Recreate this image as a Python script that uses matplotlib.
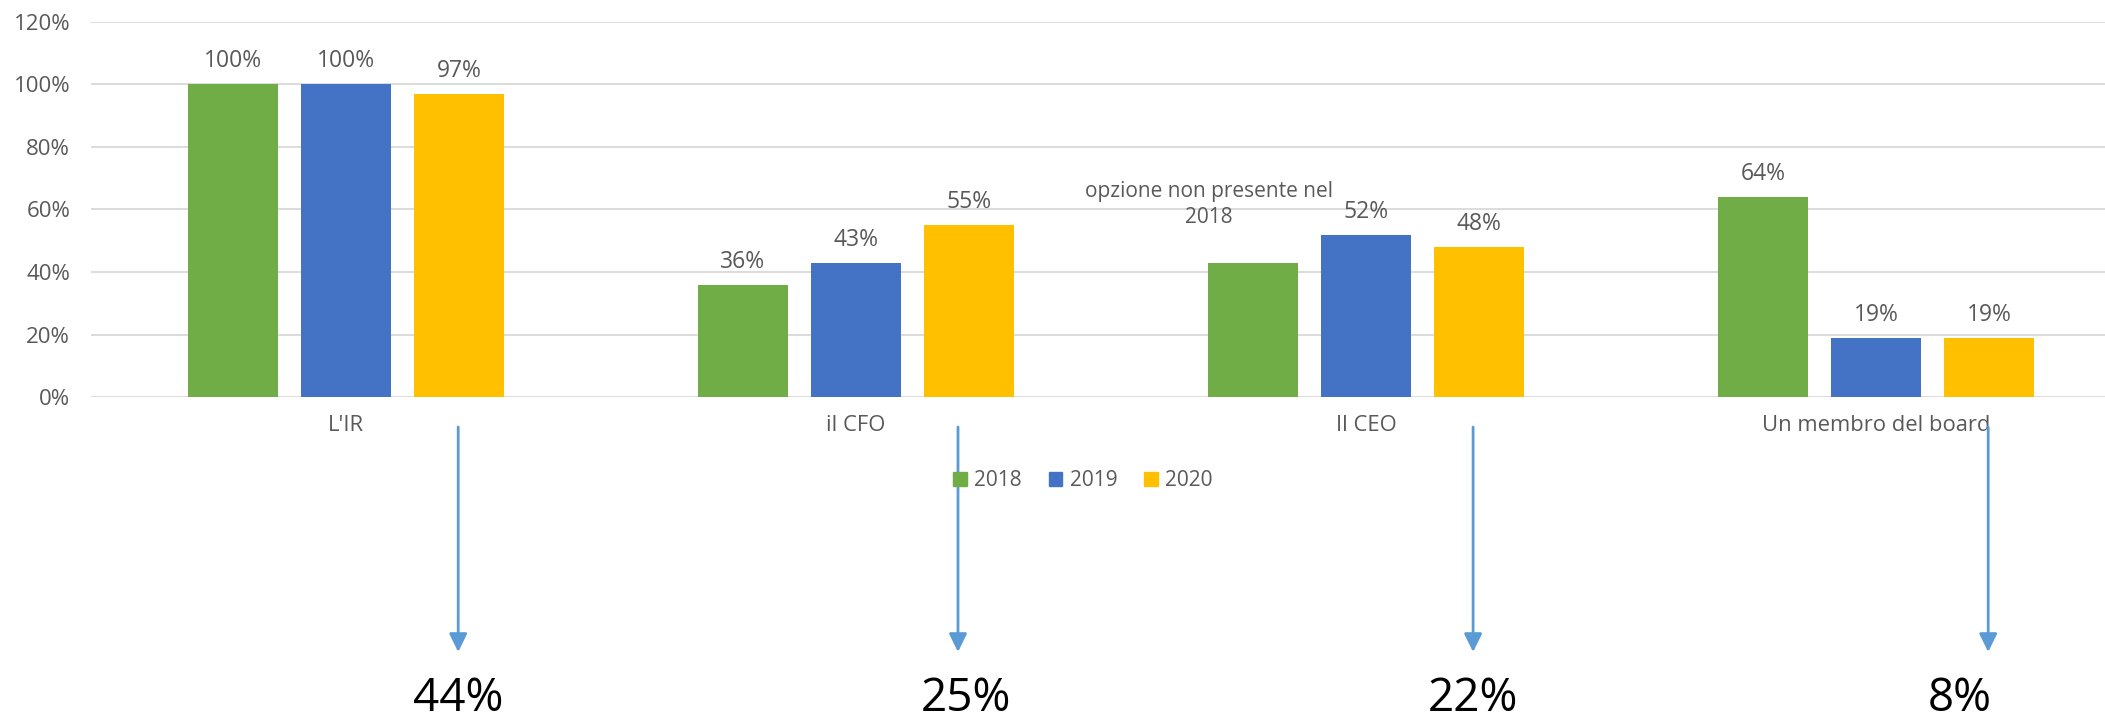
import numpy as np
import matplotlib
matplotlib.use('Agg')
import matplotlib.pyplot as plt
import matplotlib.transforms as mtransforms
from matplotlib.patches import Patch

plt.rcParams['font.family'] = ['Open Sans', 'DejaVu Sans']

# data
categories = ["L'IR", "il CFO", "Il CEO", "Un membro del board"]
years = ['2018', '2019', '2020']
v2018 = [100, 36, 43, 64]
v2019 = [100, 43, 52, 19]
v2020 = [97, 55, 48, 19]
bar_labels_2018 = ['100%', '36%', 'opzione non presente nel\n2018', '64%']
highlight = ['44%', '25%', '22%', '8%']
arrow_offsets = [0.22, 0.20, 0.21, 0.22]
highlight_offsets = [0.22, 0.215, 0.21, 0.165]

colors = ['#70AD47', '#4472C4', '#FFC000']
text_gray = '#595959'
grid_gray = '#D9D9D9'
arrow_blue = '#5B9BD5'

W, H = 2105, 719
fig = plt.figure(figsize=(W / 100, H / 100), dpi=100)
ax = fig.add_axes([91 / W, (H - 397.4) / H, (W - 91) / W, (397.4 - 21.5) / H])

x = np.arange(len(categories))
pitch = 0.2216
width = 0.175
series = [v2018, v2019, v2020]
for i, (vals, col) in enumerate(zip(series, colors)):
    xs = x + (i - 1) * pitch
    ax.bar(xs, vals, width=width, color=col, zorder=3, label=years[i])
    for j, (xx, v) in enumerate(zip(xs, vals)):
        if i == 0 and j == 2:
            # 2018 value for the CEO was not an option that year
            ax.annotate(bar_labels_2018[j], (xx, v), xytext=(-32, 42),
                        textcoords='offset points', ha='center', va='center',
                        fontsize=15, color=text_gray, linespacing=1.3)
        else:
            ax.annotate(f'{v}%', (xx, v), xytext=(0, 12.2),
                        textcoords='offset points', ha='center', va='baseline',
                        fontsize=16.5, color=text_gray)

ax.set_ylim(0, 120)
ax.set_xlim(-0.5, -0.5 + (W - 91) / 510)
ax.set_yticks(np.arange(0, 121, 20))
ax.set_yticklabels([f'{t}%' for t in range(0, 121, 20)])
ax.set_xticks(x)
ax.set_xticklabels(categories)
ax.tick_params(axis='y', length=0, pad=15, labelsize=16, labelcolor=text_gray)
ax.tick_params(axis='x', length=0, pad=13, labelsize=15.8, labelcolor=text_gray)
ax.grid(axis='y', color=grid_gray, lw=1.3, zorder=0)
for s in ax.spines.values():
    s.set_visible(False)

handles = [Patch(color=c) for c in colors]
fig.legend(handles, years, loc='center', bbox_to_anchor=(1083 / W, (H - 481) / H),
           ncol=3, frameon=False, fontsize=15, labelcolor=text_gray,
           handlelength=0.65, handleheight=0.65, handletextpad=0.35, columnspacing=1.3)

# arrows and highlighted percentages below
trans = mtransforms.blended_transform_factory(ax.transData, fig.transFigure)
for j in range(len(categories)):
    xa = x[j] + arrow_offsets[j]
    ax.annotate('', xy=(xa, (H - 652) / H), xycoords=trans,
                xytext=(xa, (H - 427) / H), textcoords=trans,
                arrowprops=dict(arrowstyle='-|>,head_length=0.55,head_width=0.27',
                                color=arrow_blue, lw=2, shrinkA=0, shrinkB=0,
                                mutation_scale=20),
                annotation_clip=False)
    ax.text(x[j] + highlight_offsets[j], (H - 711) / H, highlight[j], transform=trans,
            ha='center', va='baseline', fontsize=33, color='black', clip_on=False)

fig.savefig('out.png', dpi=100)
